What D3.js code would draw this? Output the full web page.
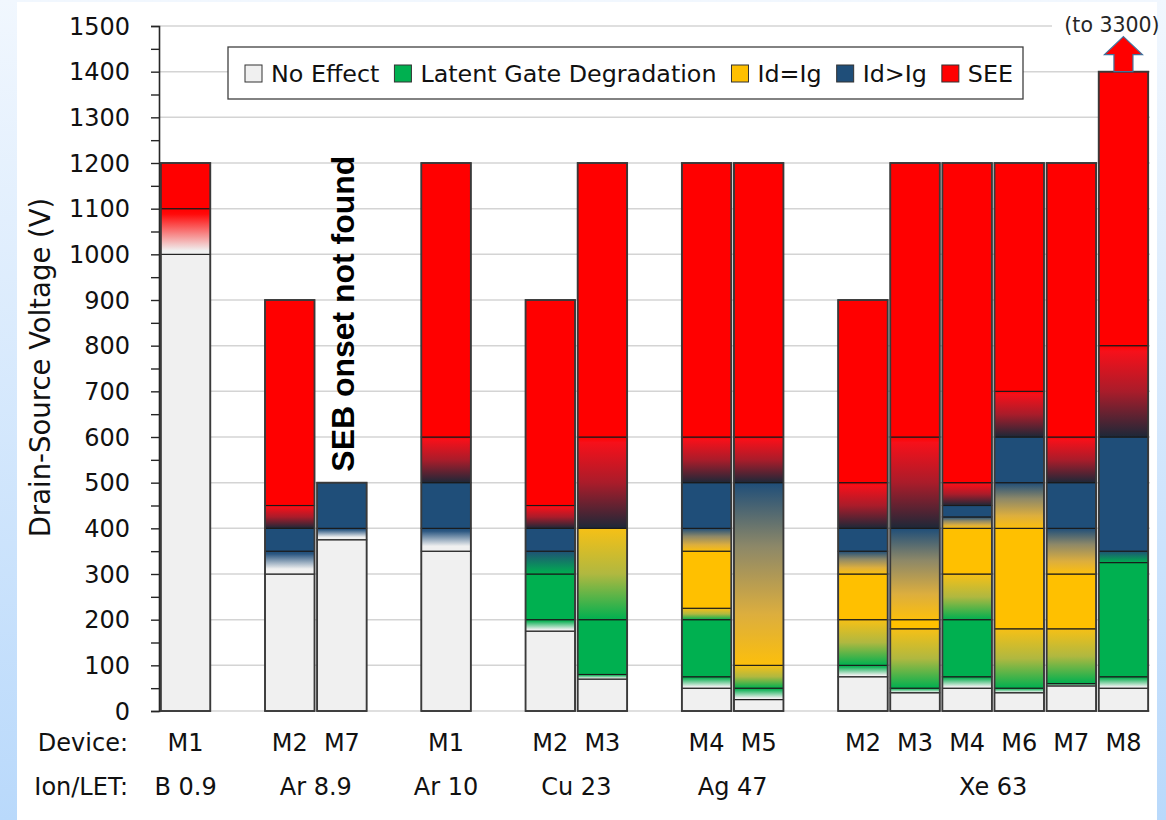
<!DOCTYPE html>
<html>
<head>
<meta charset="utf-8">
<script src="https://cdn.jsdelivr.net/npm/d3@7"></script>
<style>
  html, body { margin: 0; padding: 0; background: #ffffff; }
  svg { display: block; }
</style>
</head>
<body>
<svg id="chart" width="1166" height="820"></svg>
<script>
// ---------------- DATA ----------------
const devices = ["M1","M2","M7","M1","M2","M3","M4","M5","M2","M3","M4","M6","M7","M8"];
const slots   = [0, 2, 3, 5, 7, 8, 10, 11, 13, 14, 15, 16, 17, 18];
const ionGroups = ["B 0.9","Ar 8.9","Ar 10","Cu 23","Ag 47","Xe 63"];
const ionGroupBars = [[0],[1,2],[3],[4,5],[6,7],[8,9,10,11,12,13]];

// segment boundaries (V) for each bar, bottom to top
const bounds = [
  [0,1000,1100,1200],
  [0,300,350,400,450,900],
  [0,375,400,500],
  [0,350,400,500,600,1200],
  [0,175,200,300,350,400,450,900],
  [0,70,80,200,400,600,1200],
  [0,50,75,200,225,350,400,500,600,1200],
  [0,25,50,100,500,600,1200],
  [0,75,100,200,300,350,400,500,900],
  [0,40,50,180,200,400,600,1200],
  [0,50,75,200,300,400,425,450,500,1200],
  [0,40,50,180,400,500,600,700,1200],
  [0,55,60,180,300,400,500,600,1200],
  [0,50,75,325,350,600,800,1400]
];
// state of each segment: N no effect, G latent gate, Y Id=Ig, B Id>Ig, R SEE; "X>Z" = transition (X below, Z above)
const states = [
  ["N","N>R","R"],
  ["N","N>B","B","B>R","R"],
  ["N","N>B","B"],
  ["N","N>B","B","B>R","R"],
  ["N","N>G","G","G>B","B","B>R","R"],
  ["N","N>G","G","G>Y","B>R","R"],
  ["N","N>G","G","G>Y","Y","Y>B","B","B>R","R"],
  ["N","N>G","G>Y","Y>B","B>R","R"],
  ["N","N>G","G>Y","Y","Y>B","B","B>R","R"],
  ["N","N>G","G>Y","Y","Y>B","B>R","R"],
  ["N","N>G","G","G>Y","Y","Y>B","B","B>R","R"],
  ["N","N>G","G>Y","Y","Y>B","B","B>R","R"],
  ["N","N>G","G>Y","Y","Y>B","B","B>R","R"],
  ["N","N>G","G","G>B","B","B>R","R"]
];
const legendKeys   = ["N","G","Y","B","R"];
const legendLabels = ["No Effect","Latent Gate Degradation","Id=Ig","Id>Ig","SEE"];
const yTicks = [0,100,200,300,400,500,600,700,800,900,1000,1100,1200,1300,1400,1500];
const arrowNote = "(to 3300)";
const noteText = "SEB onset not found";
const noteBar = 2;
const arrowBar = 13;

// ---------------- STYLE ----------------
const colors = { N:"#f0f0f0", G:"#00b050", Y:"#ffc000", B:"#1f4e79", R:"#ff0000" };
// gradient stops, offset 0 = top of segment
const gradStops = {
  "N>R": [[0,"#ff0000"],[0.12,"#ff0a0a"],[0.92,"#f0f0f0"],[1,"#f0f0f0"]],
  "N>B": [[0,"#1f4e79"],[0.12,"#2b5781"],[0.78,"#f0f0f0"],[1,"#f0f0f0"]],
  "N>G": [[0,"#00b050"],[0.15,"#18b45c"],[0.88,"#f0f0f0"],[1,"#f0f0f0"]],
  "B>R": [[0,"#ff0000"],[0.06,"#f7101a"],[0.5,"#aa1c2a"],[1,"#1d2838"]],
  "G>B": [[0,"#1f4e79"],[0.1,"#1d5a72"],[1,"#00b050"]],
  "G>Y": [[0,"#f6c016"],[0.5,"#b0b840"],[1,"#00b050"]],
  "Y>B": [[0,"#1f4e79"],[0.35,"#8d8868"],[0.72,"#dcae3e"],[1,"#fcbf0c"]]
};

const W = 1166, H = 820;
const svg = d3.select("#chart");
const defs = svg.append("defs");

// background
const bg = defs.append("linearGradient").attr("id","bgGrad").attr("x1",0).attr("y1",0).attr("x2",0).attr("y2",1);
bg.append("stop").attr("offset",0).attr("stop-color","#f1f7fe");
bg.append("stop").attr("offset",1).attr("stop-color","#b9d9fb");
svg.append("rect").attr("width",W).attr("height",H).attr("fill","url(#bgGrad)");
svg.append("rect").attr("x",17).attr("y",2).attr("width",1140).attr("height",H-2).attr("fill","#ffffff");

Object.entries(gradStops).forEach(([k, stops]) => {
  const g = defs.append("linearGradient").attr("id","g_"+k.replace(">","_"))
    .attr("x1",0).attr("y1",0).attr("x2",0).attr("y2",1);
  stops.forEach(s => g.append("stop").attr("offset",s[0]).attr("stop-color",s[1]));
});
const fillOf = s => s.includes(">") ? "url(#g_"+s.replace(">","_")+")" : colors[s];

// scales
const y = d3.scaleLinear().domain([0,1500]).range([711,26]);
const x = d3.scaleBand().domain(d3.range(19)).range([159.5,1149.5]).paddingInner(0.05).paddingOuter(0.025);
const xl = 159, xr = 1150;

// gridlines
svg.append("g").selectAll("line").data(yTicks).join("line")
  .attr("x1",xl).attr("x2",xr).attr("y1",d=>y(d)).attr("y2",d=>y(d))
  .attr("stroke","#d4d4d4").attr("stroke-width",1.5);

// y axis
const yAxis = d3.axisLeft(y).tickValues(d3.range(0,1501,50)).tickSize(8).tickFormat("");
const ya = svg.append("g").attr("transform",`translate(${xl},0)`).call(yAxis);
ya.select(".domain").attr("stroke","#262626").attr("stroke-width",1.6);
ya.selectAll(".tick line").attr("stroke","#262626").attr("stroke-width",1.4);
svg.append("g").selectAll("text").data(yTicks).join("text")
  .attr("x",130).attr("y",d=>y(d)).attr("dy","0.36em").attr("text-anchor","end")
  .attr("font-family","DejaVu Sans, sans-serif").attr("font-size",24).attr("fill","#111")
  .text(d=>d);

svg.append("text")
  .attr("transform",`translate(50,${(y(0)+y(1500))/2 - 1}) rotate(-90)`)
  .attr("text-anchor","middle")
  .attr("font-family","DejaVu Sans, sans-serif").attr("font-size",27.5).attr("fill","#111")
  .text("Drain-Source Voltage (V)");

// bars
const barsG = svg.append("g");
devices.forEach((dev, i) => {
  const bx = x(slots[i]), bw = x.bandwidth();
  const b = bounds[i];
  const g = barsG.append("g");
  const segs = states[i].map((s, j) => ({s, lo:b[j], hi:b[j+1]}));
  g.selectAll("rect.seg").data(segs).join("rect").attr("class","seg")
    .attr("x",bx).attr("width",bw)
    .attr("y",d=>y(d.hi)).attr("height",d=>y(d.lo)-y(d.hi))
    .attr("fill",d=>fillOf(d.s))
    .attr("stroke","#1a1a1a").attr("stroke-width",1.1);
  g.append("rect").attr("x",bx).attr("width",bw)
    .attr("y",y(b[b.length-1])).attr("height",y(0)-y(b[b.length-1]))
    .attr("fill","none").attr("stroke","#3a3a3a").attr("stroke-width",1.8);
});

// note text (rotated)
{
  const b = bounds[noteBar];
  const cx = x(slots[noteBar]) + x.bandwidth()/2;
  svg.append("text")
    .attr("transform",`translate(${cx+12},${y(b[b.length-1])-11}) rotate(-90)`)
    .attr("font-family","Liberation Sans, Arial, sans-serif").attr("font-weight","bold")
    .attr("font-size",32).attr("fill","#000")
    .attr("textLength",316).attr("lengthAdjust","spacingAndGlyphs")
    .text(noteText);
}

// arrow + note
{
  const b = bounds[arrowBar];
  const cx = x(slots[arrowBar]) + x.bandwidth()/2;
  const yb = y(b[b.length-1]);
  svg.append("rect").attr("x",1052).attr("y",12).attr("width",104).attr("height",26).attr("fill","#fff");
  const pts = [[cx,yb-35],[cx+19,yb-17],[cx+9.5,yb-17],[cx+9.5,yb],[cx-9.5,yb],[cx-9.5,yb-17],[cx-19,yb-17]];
  svg.append("polygon").attr("points",pts.map(p=>p.join(",")).join(" "))
    .attr("fill","#ff0000").attr("stroke","#41719c").attr("stroke-width",1.2);
  svg.append("text").attr("x",1112).attr("y",32).attr("text-anchor","middle")
    .attr("font-family","DejaVu Sans, sans-serif").attr("font-size",20.5).attr("fill","#262626")
    .text(arrowNote);
}

// legend
{
  const lg = svg.append("g");
  lg.append("rect").attr("x",228).attr("y",47).attr("width",795).attr("height",52)
    .attr("fill","#fff").attr("stroke","#404040").attr("stroke-width",1.3);
  let cx = 245;
  legendKeys.forEach((k, i) => {
    lg.append("rect").attr("x",cx).attr("y",65).attr("width",17).attr("height",17)
      .attr("fill",colors[k]).attr("stroke","#333").attr("stroke-width",1);
    const t = lg.append("text").attr("x",cx+26).attr("y",82)
      .attr("font-family","DejaVu Sans, sans-serif").attr("font-size",23.8).attr("fill","#111")
      .text(legendLabels[i]);
    cx += 26 + t.node().getComputedTextLength() + 15;
  });
}

// x labels
const labFont = "DejaVu Sans, sans-serif";
svg.append("text").attr("x",128).attr("y",751).attr("text-anchor","end")
  .attr("font-family",labFont).attr("font-size",24).attr("fill","#111").text("Device:");
svg.append("text").attr("x",128).attr("y",795).attr("text-anchor","end")
  .attr("font-family",labFont).attr("font-size",24).attr("fill","#111").text("Ion/LET:");
svg.append("g").selectAll("text").data(devices).join("text")
  .attr("x",(d,i)=>x(slots[i])+x.bandwidth()/2).attr("y",751).attr("text-anchor","middle")
  .attr("font-family",labFont).attr("font-size",24).attr("fill","#111").text(d=>d);
svg.append("g").selectAll("text").data(ionGroups).join("text")
  .attr("x",(d,i)=>{
    const idx = ionGroupBars[i];
    const a = x(slots[idx[0]]), z = x(slots[idx[idx.length-1]]) + x.bandwidth();
    return (a+z)/2;
  })
  .attr("y",795).attr("text-anchor","middle")
  .attr("font-family",labFont).attr("font-size",24).attr("fill","#111").text(d=>d);
</script>
</body>
</html>
